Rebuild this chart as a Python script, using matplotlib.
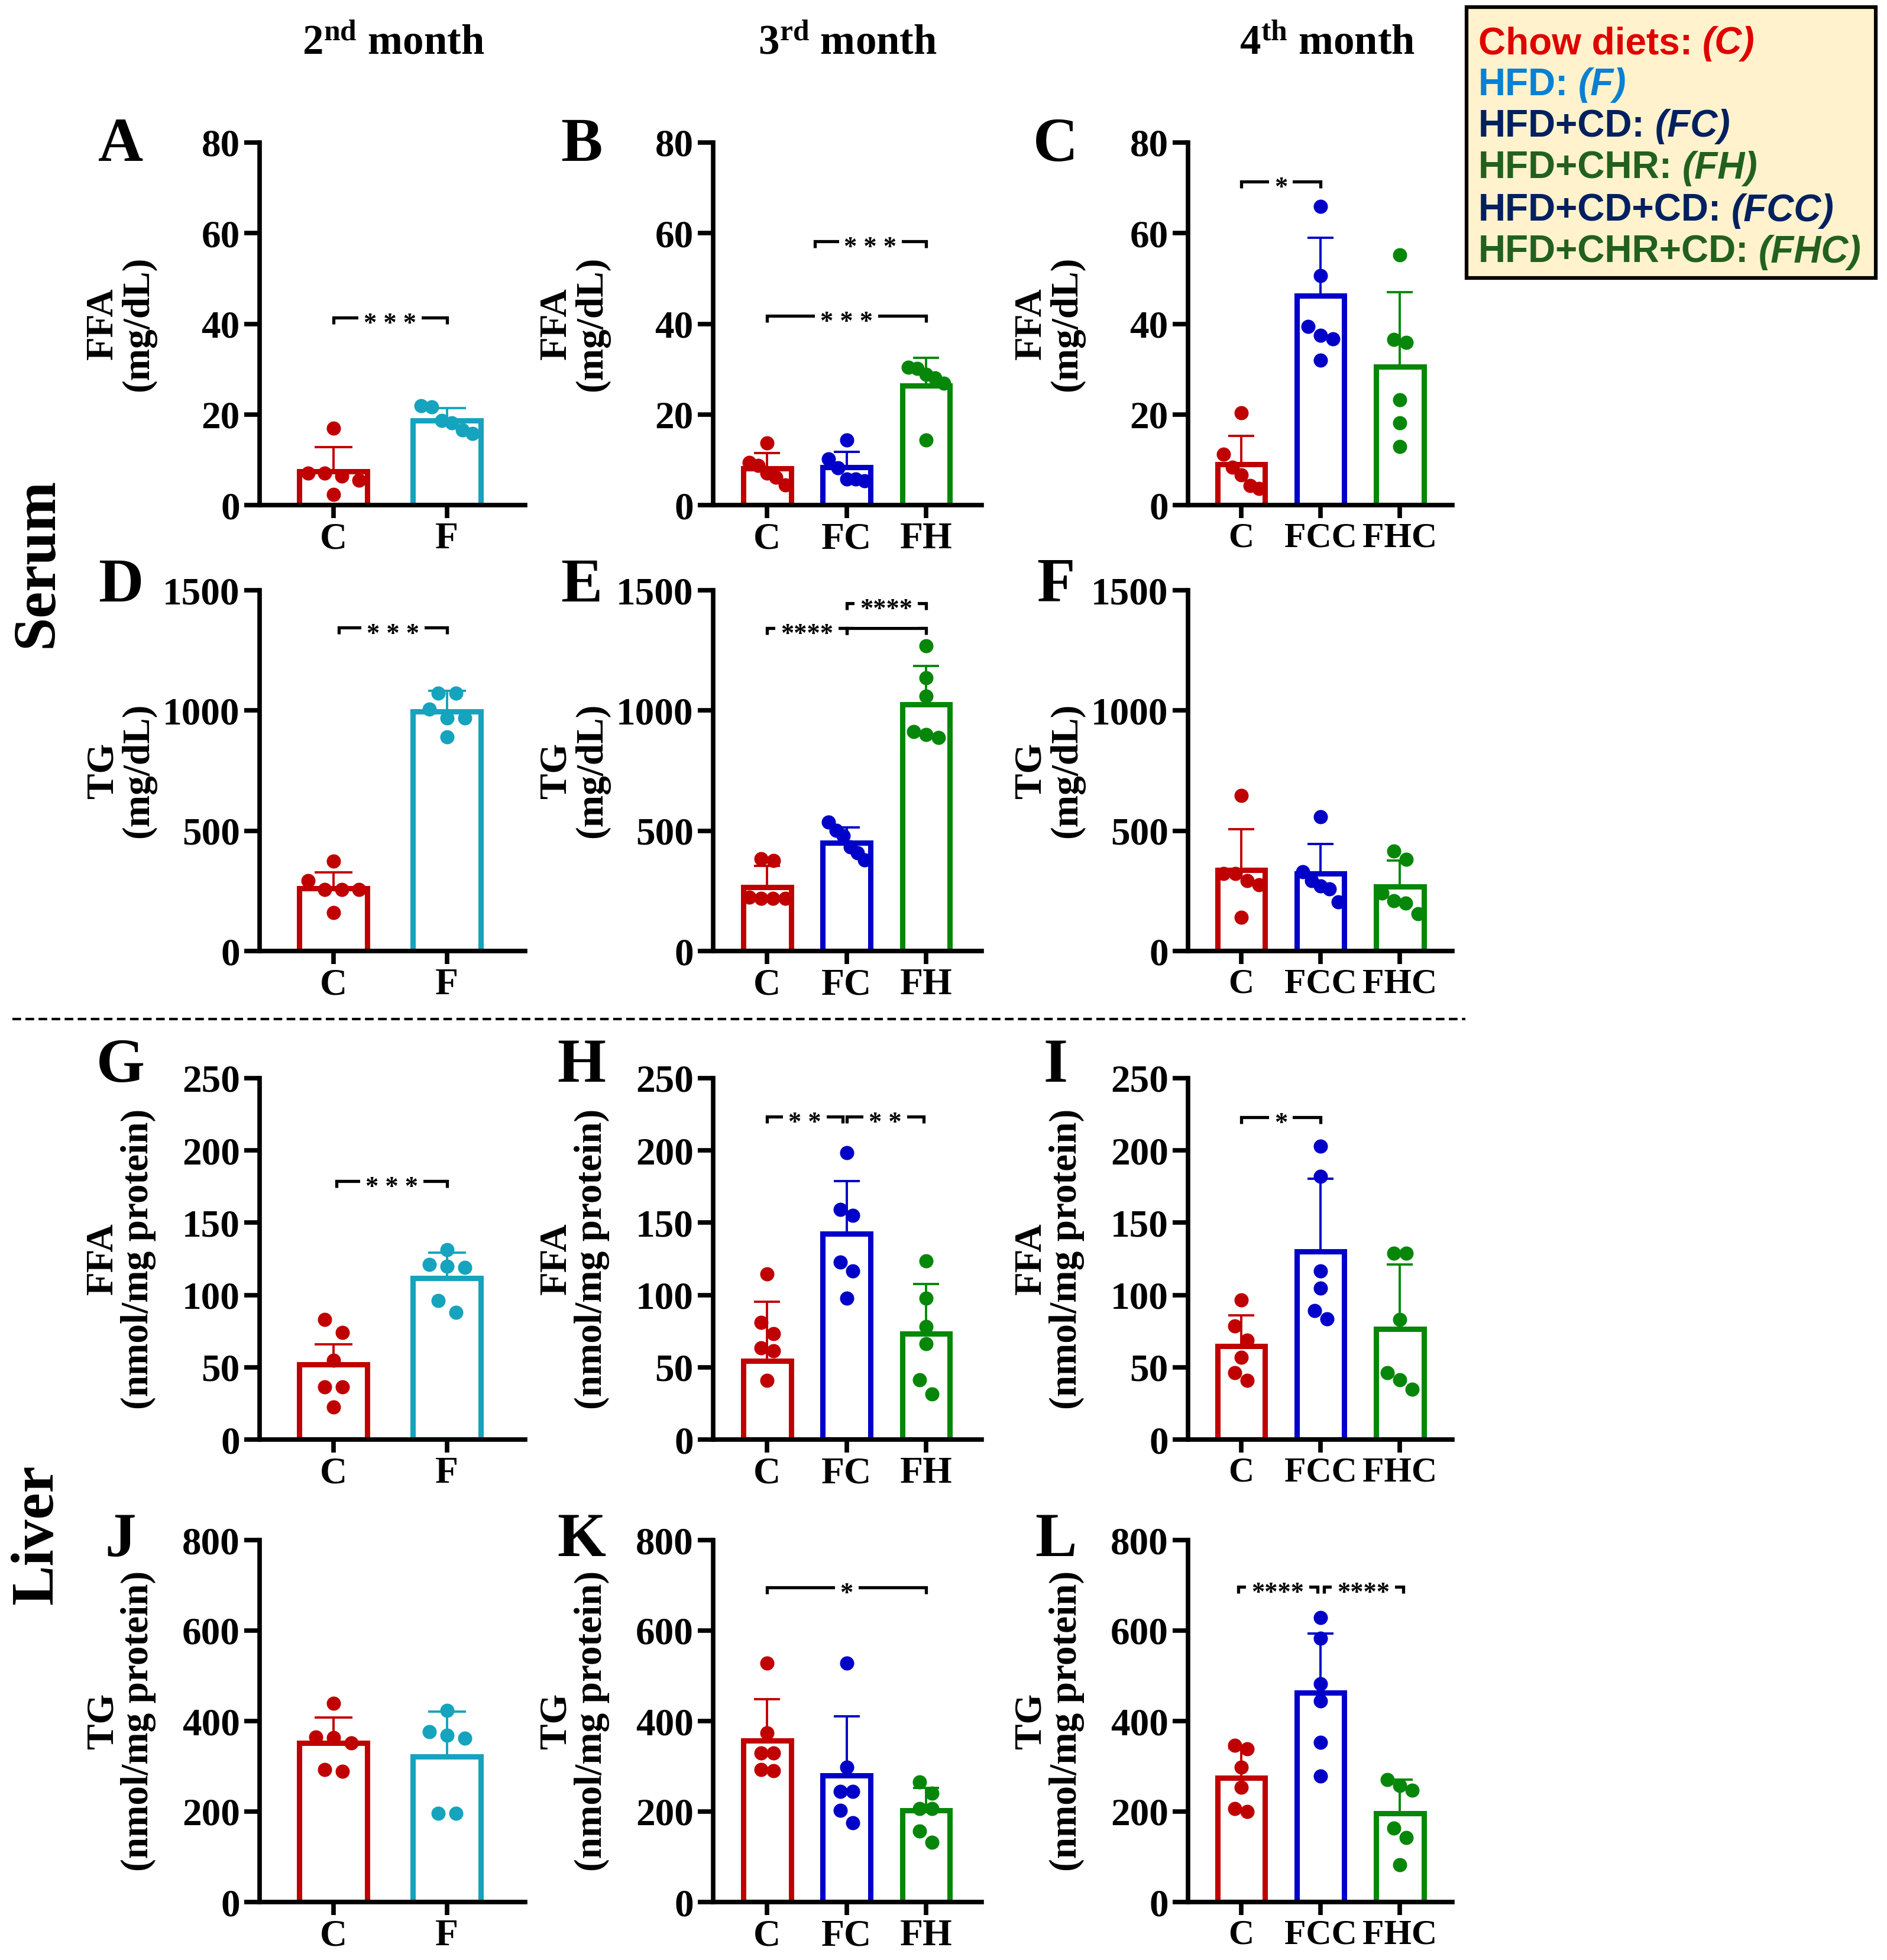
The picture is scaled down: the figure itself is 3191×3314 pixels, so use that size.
import numpy as np
import matplotlib
matplotlib.use("Agg")
import matplotlib.pyplot as plt
from matplotlib.patches import Rectangle

plt.rcParams['font.family'] = ['Liberation Serif', 'DejaVu Serif']
plt.rcParams['font.weight'] = 'bold'
plt.rcParams['mathtext.fontset'] = 'custom'
plt.rcParams['mathtext.rm'] = 'Liberation Serif:bold'
plt.rcParams['mathtext.bf'] = 'Liberation Serif:bold'
plt.rcParams['mathtext.it'] = 'Liberation Serif:italic:bold'

# ---------------- data ----------------
month_titles = [r"$\mathbf{2^{nd}}$ month", r"$\mathbf{3^{rd}}$ month", r"$\mathbf{4^{th}}$ month"]
groups_m2 = ["C", "F"]
groups_m3 = ["C", "FC", "FH"]
groups_m4 = ["C", "FCC", "FHC"]
row_ylabels = ["FFA\n(mg/dL)", "TG\n(mg/dL)", "FFA\n(nmol/mg protein)", "TG\n(nmol/mg protein)"]
row_yticks = [[0, 20, 40, 60, 80], [0, 500, 1000, 1500],
              [0, 50, 100, 150, 200, 250], [0, 200, 400, 600, 800]]
section_labels = ["Serum", "Liver"]
panel_letters = list("ABCDEFGHIJKL")

# Serum FFA (mg/dL)
A_mean = [7.5, 18.7]
A_sd = [5.3, 2.7]
A_pts = [[17.0, 7.0, 7.0, 6.4, 5.5, 2.3], [21.9, 21.7, 18.7, 18.2, 16.6, 15.8]]
B_mean = [8.1, 8.3, 26.3]
B_sd = [3.4, 3.5, 6.2]
B_pts = [[13.7, 9.4, 8.8, 7.0, 6.1, 4.4], [14.4, 10.2, 8.2, 5.8, 5.7, 5.4],
         [30.4, 30.1, 28.9, 28.1, 26.9, 14.3]]
C_mean = [9.0, 46.2, 30.5]
C_sd = [6.3, 12.8, 16.5]
C_pts = [[20.3, 11.2, 8.3, 6.7, 4.3, 3.6], [65.9, 50.7, 39.4, 37.4, 36.7, 32.0],
         [55.2, 36.5, 35.9, 23.2, 18.1, 12.9]]
# Serum TG (mg/dL)
D_mean = [260, 995]
D_sd = [68, 88]
D_pts = [[375, 292, 255, 255, 255, 161], [1073, 1073, 1005, 969, 969, 890]]
E_mean = [265, 450, 1025]
E_sd = [88, 64, 160]
E_pts = [[383, 377, 223, 218, 218, 218], [535, 502, 479, 432, 408, 379],
         [1269, 1136, 1060, 913, 901, 887]]
F_mean = [337, 323, 267]
F_sd = [170, 123, 110]
F_pts = [[646, 321, 321, 292, 276, 139], [557, 330, 292, 271, 259, 205],
         [415, 382, 241, 208, 200, 156]]
# Liver FFA (nmol/mg protein)
G_mean = [51.8, 111.6]
G_sd = [13.9, 17.8]
G_pts = [[83.1, 74.1, 54.7, 36.5, 36.5, 22.5], [131.5, 121.0, 120.0, 118.9, 96.0, 88.1]]
H_mean = [54.6, 142.4, 73.3]
H_sd = [40.8, 36.3, 34.3]
H_pts = [[114.5, 81.1, 73.3, 63.4, 61.5, 40.8], [198.4, 159.3, 155.1, 122.9, 116.5, 97.8],
         [123.7, 97.8, 78.2, 66.4, 41.2, 31.4]]
I_mean = [64.7, 130.0, 76.5]
I_sd = [21.2, 50.4, 44.7]
I_pts = [[96.7, 78.4, 68.6, 56.9, 46.3, 40.8], [202.9, 181.9, 116.7, 104.9, 89.4, 83.5],
         [129.0, 129.0, 82.9, 46.3, 41.2, 34.9]]
# Liver TG (nmol/mg protein)
J_mean = [352, 322]
J_sd = [56, 99]
J_pts = [[439, 365, 363, 352, 293, 289], [424, 376, 369, 362, 196, 196]]
K_mean = [357, 280, 202]
K_sd = [91, 131, 50]
K_pts = [[528, 374, 329, 329, 293, 290], [528, 298, 244, 244, 202, 175],
         [266, 240, 207, 207, 157, 132]]
L_mean = [275, 463, 196]
L_sd = [65, 131, 74]
L_pts = [[347, 338, 298, 253, 207, 200], [629, 583, 482, 444, 353, 279],
         [271, 258, 247, 163, 143, 83]]

# significance brackets: (from group, to group, level, label)
A_sig = [(0, 1, 41.4, "***")]
B_sig = [(0, 2, 41.8, "***"), (0.6, 2, 58.2, "***")]
C_sig = [(0, 1, 71.4, "*")]
D_sig = [(0.05, 1, 1344, "***")]
E_sig = [(0, 1, 1342, "****"), (1, 2, 1342, ""), (1, 2, 1447, "****")]
F_sig = []
G_sig = [(0.03, 1, 179, "***")]
H_sig = [(0, 0.95, 223.5, "**"), (1.0, 1.97, 223.5, "**")]
I_sig = [(0, 1, 223, "*")]
J_sig = []
K_sig = [(0, 2, 695, "*")]
L_sig = [(-0.04, 0.96, 697, "****"), (1.04, 2.04, 697, "****")]

legend_names = ["Chow diets:", "HFD:", "HFD+CD:", "HFD+CHR:", "HFD+CD+CD:", "HFD+CHR+CD:"]
legend_codes = ["(C)", "(F)", "(FC)", "(FH)", "(FCC)", "(FHC)"]

# ---------------- styles / layout ----------------
group_colors = {"C": "#C00000", "F": "#16A3BD", "FC": "#0000C8", "FCC": "#0000C8",
                "FH": "#07870A", "FHC": "#07870A"}
legend_colors = ["#E00000", "#0A80D2", "#002060", "#22601E", "#002060", "#22601E"]

W, H = 3191, 3314
DPI = 100
col_px = [(439, 888), (1206, 1660), (2009, 2456)]
row_px = [(241, 854), (998, 1608), (1823, 2434), (2604, 3216)]
xlims = [(-0.65, 1.69), (-0.68, 2.70), (-0.67, 2.66)]
xtick_sizes = [46, 46, 43]
col_groups = [groups_m2, groups_m3, groups_m4]

panels = [
    [(A_mean, A_sd, A_pts, A_sig), (B_mean, B_sd, B_pts, B_sig), (C_mean, C_sd, C_pts, C_sig)],
    [(D_mean, D_sd, D_pts, D_sig), (E_mean, E_sd, E_pts, E_sig), (F_mean, F_sd, F_pts, F_sig)],
    [(G_mean, G_sd, G_pts, G_sig), (H_mean, H_sd, H_pts, H_sig), (I_mean, I_sd, I_pts, I_sig)],
    [(J_mean, J_sd, J_pts, J_sig), (K_mean, K_sd, K_pts, K_sig), (L_mean, L_sd, L_pts, L_sig)],
]

BW = 0.6
DOT_PX = 24
SPINE_LW = 5.5


def swarm_offsets(vals, dval, bw):
    vals = np.asarray(vals, dtype=float)
    order = np.argsort(-vals, kind="stable")
    rows = [[order[0]]]
    for k in range(1, len(order)):
        if vals[order[k - 1]] - vals[order[k]] < dval:
            rows[-1].append(order[k])
        else:
            rows.append([order[k]])
    offs = np.zeros(len(vals))
    for r in rows:
        n = len(r)
        if n == 1:
            continue
        step = min(0.26 * bw, 0.75 * bw / (n - 1))
        for j, idx in enumerate(r):
            offs[idx] = (j - (n - 1) / 2) * step
    return offs


def star_text(lab):
    return " ".join(lab) if len(lab) <= 3 else lab


fig = plt.figure(figsize=(W / DPI, H / DPI), dpi=DPI)

for ri in range(4):
    top, bot = row_px[ri]
    for ci in range(3):
        left, right = col_px[ci]
        ax = fig.add_axes([left / W, 1 - bot / H, (right - left) / W, (bot - top) / H])
        means, sds, pts, sig = panels[ri][ci]
        groups = col_groups[ci]
        cols = [group_colors[g] for g in groups]
        x = np.arange(len(groups))
        ticks = row_yticks[ri]
        ax.set_xlim(*xlims[ci])
        ax.set_ylim(0, ticks[-1])
        ax.set_yticks(ticks)
        ax.set_xticks(x)
        ax.set_xticklabels(groups)
        axw_px = right - left
        axh_px = bot - top
        px_per_x = axw_px / (xlims[ci][1] - xlims[ci][0])

        ax.bar(x, means, width=BW, facecolor="white", edgecolor=cols, linewidth=6.5, zorder=2)
        capsize = 0.33 * px_per_x / 2 * 72 / DPI
        for i in range(len(groups)):
            ax.errorbar([x[i]], [means[i]], yerr=[[0], [sds[i]]], fmt="none", ecolor=cols[i],
                        elinewidth=2.8, capthick=2.8, capsize=capsize, zorder=3)
            dval = DOT_PX * ticks[-1] / axh_px
            offs = swarm_offsets(pts[i], dval, BW)
            ax.plot(x[i] + offs, pts[i], "o", ms=DOT_PX * 72 / DPI, color=cols[i],
                    mec=cols[i], mew=0, zorder=4, clip_on=False)

        tick_h = 0.018 * ticks[-1]
        for (x1, x2, yv, lab) in sig:
            ax.plot([x1, x1, x2, x2], [yv - tick_h, yv, yv, yv - tick_h], color="black",
                    lw=3.8, solid_joinstyle="miter", solid_capstyle="butt", zorder=5,
                    clip_on=False)
            if lab:
                ax.annotate(star_text(lab), xy=((x1 + x2) / 2, yv), xytext=(0, -8),
                            textcoords="offset points", ha="center", va="center",
                            fontsize=32, fontweight="bold", zorder=6,
                            bbox=dict(boxstyle="square,pad=0.2", fc="white", ec="none"))

        for s in ["top", "right"]:
            ax.spines[s].set_visible(False)
        for s in ["left", "bottom"]:
            ax.spines[s].set_linewidth(SPINE_LW)
        ax.tick_params(axis="y", length=19, width=SPINE_LW, labelsize=47, pad=5)
        ax.tick_params(axis="x", length=16, width=SPINE_LW, labelsize=xtick_sizes[ci], pad=5)
        ax.set_ylabel(row_ylabels[ri], fontsize=47, fontweight="bold", linespacing=1.0,
                      va="center")
        ax.yaxis.set_label_coords(-235 / axw_px, 0.5)
        ax.set_facecolor("none")

# ---------------- overlay texts ----------------
ov = fig.add_axes([0, 0, 1, 1], zorder=10)
ov.set_xlim(0, W)
ov.set_ylim(H, 0)
ov.set_axis_off()

title_x = [665, 1433, 2245]
for t, xp in zip(month_titles, title_x):
    ov.text(xp, 74, t, ha="center", va="center", fontsize=51, fontweight="bold")

letter_x = [204, 983, 1785]
letter_base = [272, 1017, 1829, 2631]
k = 0
for ri in range(4):
    for ci in range(3):
        ov.text(letter_x[ci], letter_base[ri], panel_letters[k], ha="center", va="baseline",
                fontsize=76, fontweight="bold")
        k += 1

ov.text(64, 951, section_labels[0], rotation=90, ha="center", va="center", fontsize=73,
        fontweight="bold")
ov.text(64, 2595, section_labels[1], rotation=90, ha="center", va="center", fontsize=73,
        fontweight="bold")

ov.plot([21, 2478], [1723, 1723], color="black", lw=3, linestyle=(0, (3.5, 1.8)))

ov.add_patch(Rectangle((2480, 12), 692, 458, facecolor="#FFF2CC", edgecolor="black", lw=4.5,
                       zorder=1))
leg_base = [91, 161, 231, 302, 374, 444]
for name, code, colr, yb in zip(legend_names, legend_codes, legend_colors, leg_base):
    t = ov.text(2500, yb, name, ha="left", va="baseline", fontsize=46,
                family=["Liberation Sans", "DejaVu Sans"], fontweight="bold", color=colr,
                zorder=2)
    ov.annotate(code, xy=(1, 0), xycoords=t, xytext=(12, 0), textcoords="offset points",
                ha="left", va="bottom", fontsize=46, family=["Liberation Sans", "DejaVu Sans"],
                fontweight="bold", fontstyle="italic", color=colr, zorder=2)

fig.savefig("out.png", dpi=DPI, facecolor="white")
